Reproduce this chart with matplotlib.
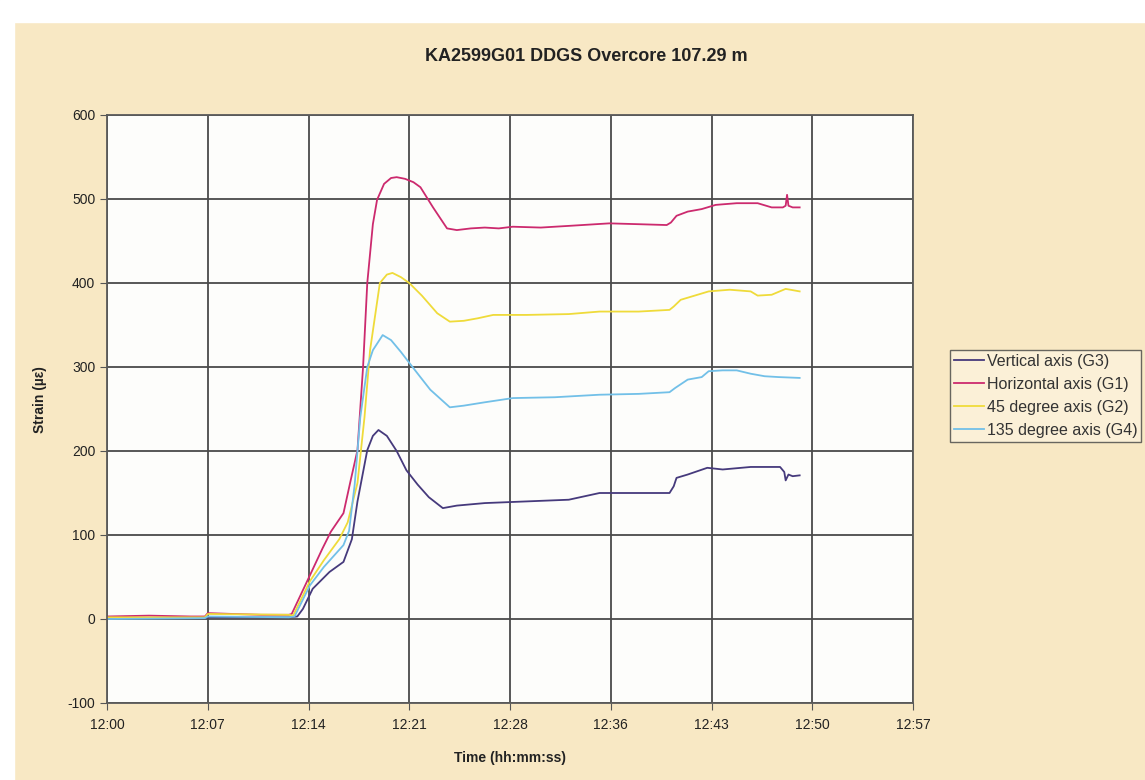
"""KA2599G01 DDGS overcore strain record, redrawn from a scanned Excel chart."""
import matplotlib
matplotlib.use("Agg")
import matplotlib.pyplot as plt
from matplotlib.patches import Rectangle

plt.rcParams["font.family"] = ["Liberation Sans", "DejaVu Sans"]
plt.rcParams["axes.unicode_minus"] = False

# time in minutes after 12:00:00
tick_minutes = [0, 7.2, 14.4, 21.6, 28.8, 36.0, 43.2, 50.4, 57.6]
tick_labels = ["12:00", "12:07", "12:14", "12:21", "12:28", "12:36", "12:43", "12:50", "12:57"]

t_g3 = [0, 7, 7.2, 13.0, 13.6, 14.0, 14.7, 15.9, 16.9, 17.5, 17.9, 18.6, 19.0, 19.4, 20.0,
        20.7, 21.4, 22.2, 23.0, 24.0, 25, 27, 30, 33, 35.2, 38, 40.2, 40.5, 40.7, 41.5,
        42.9, 44, 46, 48.1, 48.4, 48.5, 48.7, 49.0, 49.5]
v_g3 = [1, 1, 2, 2, 3, 12, 36, 56, 68, 95, 140, 201, 218, 225, 218,
        200, 177, 160, 145, 132, 135, 138, 140, 142, 150, 150, 150, 158, 168, 172,
        180, 178, 181, 181, 175, 165, 172, 170, 171]

t_g1 = [0, 3, 6, 7.0, 7.2, 9, 11, 13.0, 13.2, 14.5, 15.4, 16.0, 16.9, 17.4, 17.9, 18.3,
        18.6, 19.0, 19.3, 19.8, 20.3, 20.7, 21.3, 21.9, 22.4, 23.3, 24.3, 25, 26, 27, 28,
        29, 31, 33, 35.9, 38, 40.0, 40.3, 40.7, 41.5, 42.5, 43.5, 45, 46.5, 47.5, 48.3,
        48.5, 48.6, 48.7, 49.0, 49.5]
v_g1 = [3, 4, 3, 3, 7, 6, 5, 5, 6, 52, 84, 104, 126, 164, 201, 300,
        400, 470, 499, 518, 525, 526, 524, 520, 514, 490, 465, 463, 465, 466, 465,
        467, 466, 468, 471, 470, 469, 472, 480, 485, 488, 493, 495, 495, 490, 490,
        492, 505, 492, 490, 490]

t_g2 = [0, 7, 7.2, 13.0, 13.3, 14.5, 15.5, 16.6, 17.2, 17.9, 18.4, 18.8, 19.5, 20.0, 20.4,
        21.0, 21.6, 22.5, 23.6, 24.5, 25.5, 26.5, 27.6, 30, 33, 35.2, 38, 40.2, 40.5, 41.0,
        42.0, 43.0, 44.5, 46.0, 46.5, 47.5, 48.5, 49.5]
v_g2 = [2, 2, 6, 5, 4, 45, 70, 95, 115, 162, 240, 320, 400, 410, 412,
        407, 400, 385, 364, 354, 355, 358, 362, 362, 363, 366, 366, 368, 372, 380,
        385, 390, 392, 390, 385, 386, 393, 390]

t_g4 = [0, 7, 7.2, 13.0, 13.4, 14.5, 15.5, 16.9, 17.3, 17.7, 18.1, 18.6, 19.0, 19.7, 20.3,
        21.0, 21.6, 22.3, 23.1, 24.5, 25.5, 27, 29, 32, 35.2, 38, 40.2, 40.6, 41.5, 42.5,
        43.0, 44, 45, 46, 47, 48, 49.5]
v_g4 = [0, 1, 3, 2, 3, 40, 62, 88, 105, 160, 240, 300, 320, 338, 332,
        318, 305, 290, 273, 252, 254, 258, 263, 264, 267, 268, 270, 275, 285, 288,
        295, 296, 296, 292, 289, 288, 287]

series = [
    ("Vertical axis (G3)", t_g3, v_g3, "#463a7c"),
    ("Horizontal axis (G1)", t_g1, v_g1, "#cc2a6e"),
    ("45 degree axis (G2)", t_g2, v_g2, "#efdb3a"),
    ("135 degree axis (G4)", t_g4, v_g4, "#72c0e8"),
]

paper = "#f8e8c4"
fig = plt.figure(figsize=(11.45, 7.8), dpi=100, facecolor=paper)
# white scanner margins at top and left
fig.patches.append(Rectangle((0, 1 - 22 / 780), 1, 22 / 780, transform=fig.transFigure,
                             color="white", zorder=0))
fig.patches.append(Rectangle((0, 0), 14 / 1145, 1, transform=fig.transFigure,
                             color="white", zorder=0))

ax = fig.add_axes([107 / 1145, 1 - 703 / 780, 806 / 1145, 588 / 780])
ax.set_facecolor("#fdfdfb")

for name, t, v, c in series:
    ax.plot(t, v, color=c, lw=1.3, label=name)

ax.set_xlim(0, 57.6)
ax.set_ylim(-100, 600)
ax.set_xticks(tick_minutes)
ax.set_xticklabels(tick_labels)
ax.set_yticks(range(-100, 601, 100))
ax.grid(True, color="#4a4a4a", lw=1.3)
ax.set_axisbelow(True)
for s in ax.spines.values():
    s.set_color("#5a5a5a")
    s.set_linewidth(1.3)
ax.tick_params(direction="out", length=5, color="#555555", labelsize=10, labelcolor="#222222")
ax.tick_params(axis="x", pad=6)

fig.text(0.512, 0.928, "KA2599G01 DDGS Overcore 107.29 m", ha="center", va="center",
         fontsize=13, fontweight="bold", color="#222222")
fig.text(510 / 1145, 1 - 758 / 780, "Time (hh:mm:ss)", ha="center", va="center",
         fontsize=10, fontweight="bold", color="#222222")
fig.text(40 / 1145, 1 - 400 / 780, "Strain (\u00b5\u03b5)", ha="center", va="center",
         rotation=90, fontsize=10, fontweight="bold", color="#222222")

leg = fig.legend(loc="upper left", bbox_to_anchor=(950 / 1145, 1 - 350 / 780),
                 fontsize=11.5, frameon=True, fancybox=False, handlelength=1.9,
                 handletextpad=0.15, borderpad=0.25, labelspacing=0.5,
                 borderaxespad=0)
leg.get_frame().set_edgecolor("#444444")
leg.get_frame().set_facecolor("#fdf3dc")
for txt in leg.get_texts():
    txt.set_color("#333333")

fig.savefig("out.png", dpi=100, facecolor=paper)
